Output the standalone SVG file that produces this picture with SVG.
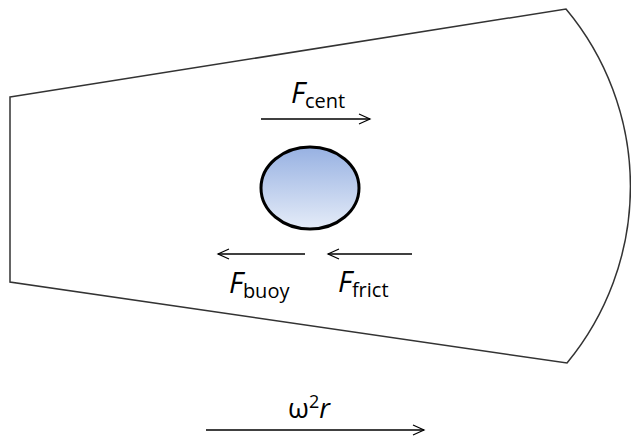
<svg xmlns="http://www.w3.org/2000/svg" width="631" height="439" viewBox="0 0 631 439">
<style>
.ln{stroke:#000;stroke-width:1.3;fill:none}
.t{font-family:"Open Sans","Liberation Sans",sans-serif;fill:#000}
.F{font-style:italic;font-size:29px}
.s{font-size:20px}
</style>
<defs>
<marker id="ah" markerWidth="14" markerHeight="12" refX="12" refY="6" orient="auto" markerUnits="userSpaceOnUse">
<path d="M1,1 L12,6 L1,11" fill="none" stroke="#000" stroke-width="1.2"/>
</marker>
<linearGradient id="g" x1="0" y1="0" x2="0" y2="1">
<stop offset="0" stop-color="#97B1E2"/>
<stop offset="1" stop-color="#E5ECF8"/>
</linearGradient>
</defs>
<g id="tube">
<path d="M10,97 L566,9 A277,277 0 0 1 567,363 L10,282 Z" fill="none" stroke="#333" stroke-width="1.5"/>
</g>
<g id="particle">
<ellipse cx="310" cy="188" rx="49" ry="41" fill="url(#g)" stroke="#000" stroke-width="3"/>
</g>
<g id="connectors">
<line class="ln" x1="261" y1="119" x2="370" y2="119" marker-end="url(#ah)"/>
<line class="ln" x1="305" y1="254" x2="218" y2="254" marker-end="url(#ah)"/>
<line class="ln" x1="412" y1="254" x2="328" y2="254" marker-end="url(#ah)"/>
<line class="ln" x1="206" y1="430" x2="424" y2="430" marker-end="url(#ah)"/>
</g>
<g id="labels">
<text class="t" x="291" y="103"><tspan class="F">F</tspan><tspan class="s" dy="5">cent</tspan></text>
<text class="t" x="229" y="293"><tspan class="F">F</tspan><tspan class="s" dy="5">buoy</tspan></text>
<text class="t" x="338" y="292"><tspan class="F">F</tspan><tspan class="s" dy="5">frict</tspan></text>
<text class="t" x="288" y="418" font-size="27px">ω<tspan font-size="18px" dy="-10">2</tspan><tspan font-style="italic" dy="10">r</tspan></text>
</g>
</svg>
